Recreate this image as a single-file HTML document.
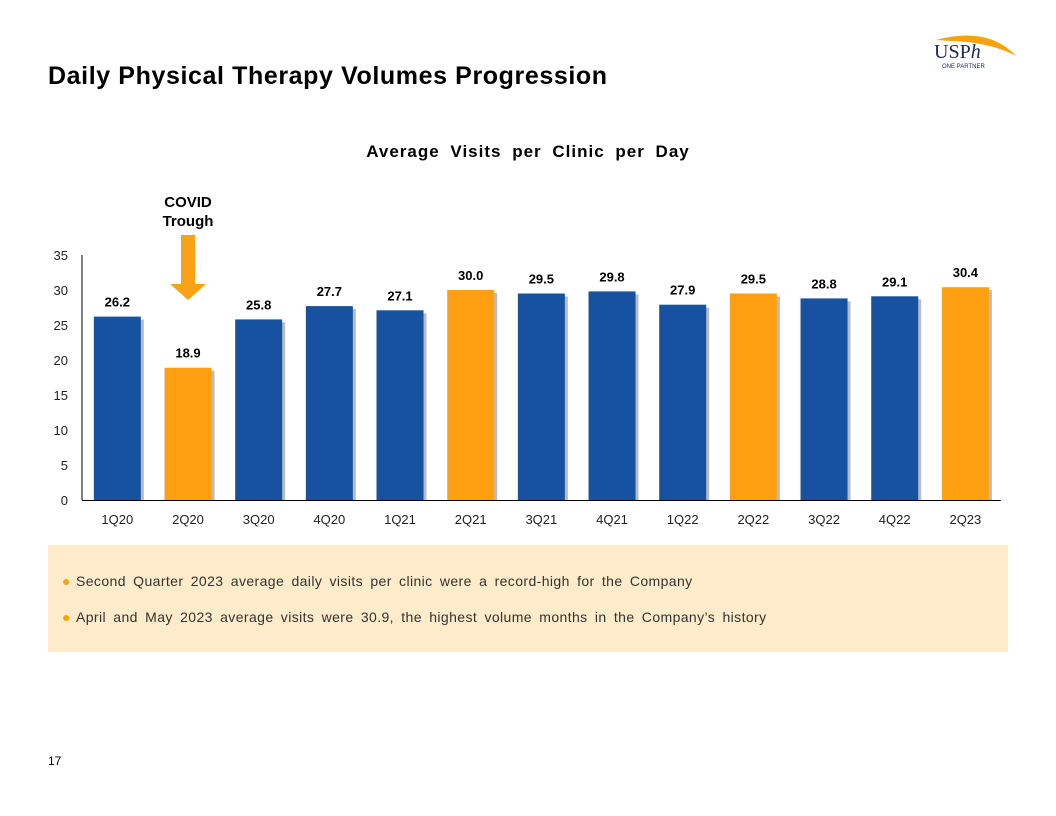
<!DOCTYPE html>
<html><head><meta charset="utf-8"><style>
body{margin:0;width:1056px;height:816px;background:#fff;font-family:"Liberation Sans",sans-serif;position:relative;overflow:hidden}
.abs{position:absolute}
</style></head><body>
<div class="abs" style="left:48px;top:62px;font-size:25px;letter-spacing:0.6px;font-weight:bold;color:#000">Daily Physical Therapy Volumes Progression</div>
<div class="abs" style="left:928px;top:28px;width:95px;height:45px">
<svg width="95" height="45"><path d="M8 12 Q60 -2 88 28 Q70 18 40 14 Z" fill="#f5a20c"/>
<text x="6" y="30" font-family="Liberation Serif" font-size="20" fill="#1a2a5a">USP<tspan font-style="italic">h</tspan></text>
<text x="14" y="40" font-size="6" fill="#1a2a5a">ONE PARTNER</text></svg></div>
<svg class="abs" style="left:0;top:0" width="1056" height="540" id="chart">
<text x="528" y="157" text-anchor="middle" font-size="17" font-weight="bold" letter-spacing="1" word-spacing="5">Average Visits per Clinic per Day</text>
<text x="188" y="207" text-anchor="middle" font-size="15" font-weight="bold">COVID</text>
<text x="188" y="226" text-anchor="middle" font-size="15" font-weight="bold">Trough</text>
<path d="M181 235 H195 V284 H206 L188 300 L170 284 H181 Z" fill="#f7a214"/>
</svg>
<div class="abs" style="left:48px;top:545px;width:960px;height:107px;background:#fdebc9">
<div style="position:absolute;left:28px;top:28px;font-size:14px;color:#333;letter-spacing:0.4px;word-spacing:3px;white-space:nowrap"><span style="color:#f5a20c;position:absolute;left:-14px">●</span>Second Quarter 2023 average daily visits per clinic were a record-high for the Company</div>
<div style="position:absolute;left:28px;top:64px;font-size:14px;color:#333;letter-spacing:0.4px;word-spacing:3px;white-space:nowrap"><span style="color:#f5a20c;position:absolute;left:-14px">●</span>April and May 2023 average visits were 30.9, the highest volume months in the Company’s history</div>
</div>
<div class="abs" style="left:48px;top:754px;font-size:12px">17</div>
<script>
const categories=["1Q20","2Q20","3Q20","4Q20","1Q21","2Q21","3Q21","4Q21","1Q22","2Q22","3Q22","4Q22","2Q23"];
const values=[26.2,18.9,25.8,27.7,27.1,30.0,29.5,29.8,27.9,29.5,28.8,29.1,30.4];
const highlight=[0,1,0,0,0,1,0,0,0,1,0,0,1];
const ticks=[0,5,10,15,20,25,30,35];
const svg=document.getElementById('chart');const NS='http://www.w3.org/2000/svg';
const x0=82,slot=70.67,bw=47,yb=500,ppu=7;
const y=v=>yb-v*ppu;
function mk(t,a){const e=document.createElementNS(NS,t);for(const k in a)e.setAttribute(k,a[k]);svg.appendChild(e);return e;}
const ax=mk('line',{x1:x0,x2:x0,y1:y(35),y2:yb,stroke:'#000','stroke-width':1});


const bx=mk('line',{x1:x0,x2:x0+slot*13,y1:yb+0.5,y2:yb+0.5,stroke:'#000','stroke-width':1});


ticks.forEach(t=>{const e=mk('text',{x:68,y:y(t)+5,'text-anchor':'end','font-size':13,fill:'#222'});e.textContent=t;

});
categories.forEach((c,i)=>{const cx=x0+slot*(i+0.5);
mk('rect',{x:cx-bw/2+3,y:y(values[i])+3,width:bw,height:values[i]*ppu-3,fill:'#bbb'});
const r=mk('rect',{x:cx-bw/2,y:y(values[i]),width:bw,height:values[i]*ppu,fill:highlight[i]?'#ffa012':'#1752a1'});


const v=mk('text',{x:cx,y:y(values[i])-10,'text-anchor':'middle','font-size':13,'font-weight':'bold'});v.textContent=values[i].toFixed(1);


const l=mk('text',{x:cx,y:524,'text-anchor':'middle','font-size':13,fill:'#222'});l.textContent=c;

});
</script>
</body></html>
